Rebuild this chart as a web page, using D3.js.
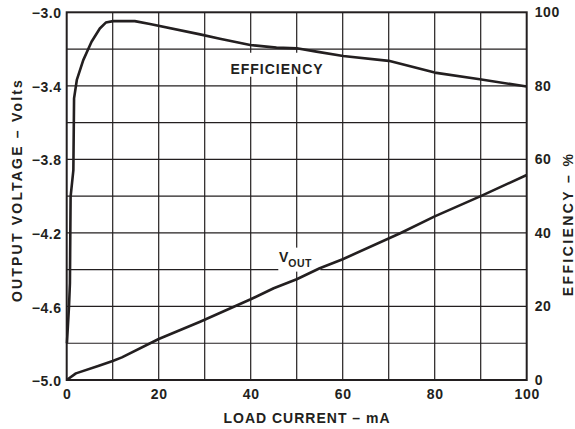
<!DOCTYPE html>
<html>
<head>
<meta charset="utf-8">
<script src="https://cdn.jsdelivr.net/npm/d3@7"></script>
<style>
  html, body { margin: 0; padding: 0; background: #fff; }
  svg text { font-family: "Liberation Sans", Arial, Helvetica, sans-serif; font-weight: bold; fill: #231f20; }
</style>
</head>
<body>
<svg id="chart" width="575" height="429"></svg>
<script>
// ---- data ----
const voutCurrent = [0, 2, 7, 10, 12, 20, 29, 40, 45, 50, 55, 60, 72.5, 80, 90, 100];
const voutVolts   = [-5.0, -4.964, -4.922, -4.897, -4.877, -4.777, -4.683, -4.561, -4.501, -4.452, -4.392, -4.343, -4.202, -4.11, -4.0, -3.885];

const effCurrent = [0.05, 0.5, 0.7, 0.85, 1.45, 1.6, 2.2, 3.6, 5.4, 7.2, 8.5, 10.1, 14.8, 18.1, 29, 33.3, 39.9, 45.6, 50, 54.3, 60.1, 70, 80, 89.8, 100];
const effPercent = [10, 20, 26.3, 49.9, 57.1, 76.6, 81.6, 87, 92, 95.6, 97.2, 97.6, 97.6, 96.8, 94, 92.8, 91.1, 90.4, 90.2, 89.3, 88.1, 86.8, 83.6, 81.8, 79.8];

const xTicks = [0, 20, 40, 60, 80, 100];
const xTickLabels = ["0", "20", "40", "60", "80", "100"];
const leftTicks = [-5.0, -4.6, -4.2, -3.8, -3.4, -3.0];
const leftTickLabels = ["\u22125.0", "\u22124.6", "\u22124.2", "\u22123.8", "\u22123.4", "\u22123.0"];
const rightTicks = [0, 20, 40, 60, 80, 100];
const rightTickLabels = ["0", "20", "40", "60", "80", "100"];
const xGrid = [10, 20, 30, 40, 50, 60, 70, 80, 90];
const yGrid = [-4.8, -4.6, -4.4, -4.2, -4.0, -3.8, -3.6, -3.4, -3.2];

const xTitle = "LOAD CURRENT \u2013 mA";
const leftTitle = "OUTPUT VOLTAGE \u2013 Volts";
const rightTitle = "EFFICIENCY \u2013 %";
const effLabel = "EFFICIENCY";

// ---- layout ----
const L = 66.7, R = 526.7, T = 12.3, B = 380;
const svg = d3.select("#chart");

const x = d3.scaleLinear().domain([0, 100]).range([L, R]);
const yV = d3.scaleLinear().domain([-5, -3]).range([B, T]);
const yE = d3.scaleLinear().domain([0, 100]).range([B, T]);

const ink = "#231f20";

// grid
const g = svg.append("g");
g.selectAll("line.vx").data(xGrid).join("line")
  .attr("x1", d => x(d)).attr("x2", d => x(d)).attr("y1", T).attr("y2", B)
  .attr("stroke", ink).attr("stroke-width", 1.2);
g.selectAll("line.hy").data(yGrid).join("line")
  .attr("y1", d => yV(d)).attr("y2", d => yV(d)).attr("x1", L).attr("x2", R)
  .attr("stroke", ink).attr("stroke-width", 1.2);

// white boxes behind labels
svg.append("rect").attr("x", x(35.5)).attr("y", yE(89)).attr("width", 96).attr("height", 24).attr("fill", "#fff");
svg.append("rect").attr("x", x(46)).attr("y", yV(-4.28)).attr("width", 42).attr("height", 24).attr("fill", "#fff");

// frame
svg.append("rect").attr("x", L).attr("y", T).attr("width", R - L).attr("height", B - T)
  .attr("fill", "none").attr("stroke", ink).attr("stroke-width", 2);

// curves
const lineV = d3.line().x((d, i) => x(voutCurrent[i])).y(d => yV(d));
svg.append("path").datum(voutVolts).attr("d", lineV)
  .attr("fill", "none").attr("stroke", ink).attr("stroke-width", 2.6).attr("stroke-linejoin", "round");
const lineE = d3.line().x((d, i) => x(effCurrent[i])).y(d => yE(d));
svg.append("path").datum(effPercent).attr("d", lineE)
  .attr("fill", "none").attr("stroke", ink).attr("stroke-width", 2.6).attr("stroke-linejoin", "round");

// axes (labels only)
const fs = "14px";
const axB = svg.append("g").attr("transform", `translate(0,${B})`)
  .call(d3.axisBottom(x).tickValues(xTicks).tickSize(0).tickPadding(9).tickFormat((d, i) => xTickLabels[i]));
const axL = svg.append("g").attr("transform", `translate(${L},0)`)
  .call(d3.axisLeft(yV).tickValues(leftTicks).tickSize(0).tickPadding(5).tickFormat((d, i) => leftTickLabels[i]));
const axR = svg.append("g").attr("transform", `translate(${R},0)`)
  .call(d3.axisRight(yE).tickValues(rightTicks).tickSize(0).tickPadding(8).tickFormat((d, i) => rightTickLabels[i]));
[axB, axL, axR].forEach(a => {
  a.select(".domain").remove();
  a.selectAll("text").attr("font-size", fs).attr("font-family", null).style("letter-spacing", "0.6px").attr("fill", ink);
});
axL.selectAll("text").attr("dy", "0.4em");

// titles
svg.append("text").attr("x", 307).attr("y", 423).attr("text-anchor", "middle")
  .attr("font-size", "14px").style("letter-spacing", "1px").text(xTitle);
svg.append("text").attr("transform", `translate(22,190) rotate(-90)`).attr("text-anchor", "middle")
  .attr("font-size", "14px").style("letter-spacing", "2.2px").text(leftTitle);
svg.append("text").attr("transform", `translate(573,224) rotate(-90)`).attr("text-anchor", "middle")
  .attr("font-size", "14px").style("letter-spacing", "2.4px").text(rightTitle);

// in-plot labels
svg.append("text").attr("x", 277).attr("y", 74).attr("text-anchor", "middle")
  .attr("font-size", "14px").style("letter-spacing", "1px").text(effLabel);
const vt = svg.append("text").attr("x", 279).attr("y", 262).attr("font-size", "14px");
vt.append("tspan").text("V");
vt.append("tspan").attr("dy", 5).attr("font-size", "10.5px").style("letter-spacing", "0.5px").text("OUT");
</script>
</body>
</html>
